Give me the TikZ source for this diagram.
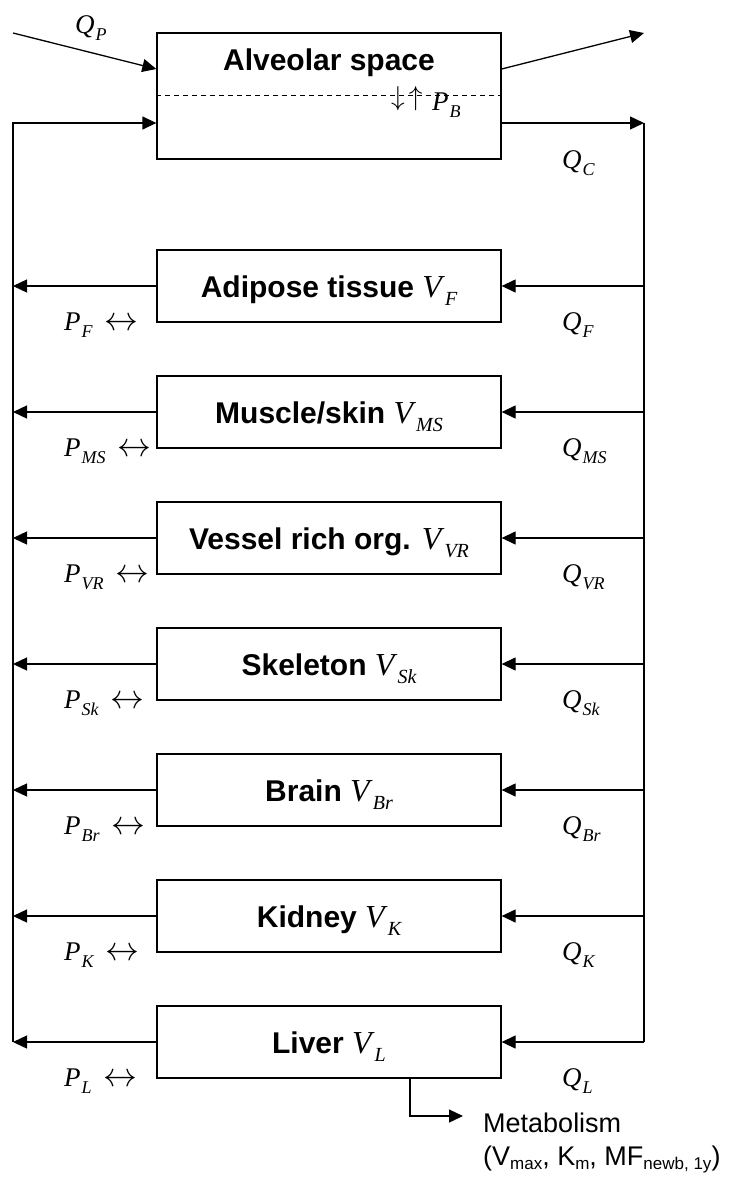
\documentclass[tikz,border=0pt]{standalone}
\usepackage{graphicx}
\usepackage{fontspec}
\setmainfont{Liberation Sans}
\newfontfamily\tms{Liberation Serif}
\usetikzlibrary{arrows.meta,calc}
\newcommand\vsub[2]{{\tms\mdseries\itshape\fontsize{32}{32}\selectfont #1\kern3pt\raisebox{-8pt}{\fontsize{20}{20}\selectfont #2}}}
\newcommand\psub[2]{{\tms\mdseries\itshape\fontsize{27}{27}\selectfont #1\kern1pt\raisebox{-7pt}{\fontsize{18}{18}\selectfont #2}}}
\newcommand\msub[1]{\raisebox{-4pt}{\fontsize{17}{17}\selectfont #1}}
\newcommand\lra{{\fontsize{25}{25}\selectfont\scalebox{1.36}{$\leftrightarrow$}}}
\begin{document}
\begin{tikzpicture}[x=1pt,y=-1pt,
  box/.style={draw, line width=1.3pt, minimum width=344pt, minimum height=72pt, inner sep=0pt, text height=22pt, text depth=0pt, font=\fontsize{30}{36}\selectfont\bfseries},
  arr/.style={line width=1.3pt, -{Triangle[length=14pt,width=13pt]}},
  ln/.style={line width=1.3pt},
  lab/.style={inner sep=0pt, anchor=base west}]
\useasboundingbox (0,0) rectangle (731,1178);
\coordinate (lt) at (13,123);
\coordinate (lb) at (13,1042);
\coordinate (rt) at (644,123);
\coordinate (rb) at (644,1042);
\coordinate (dl) at (0,95);
\coordinate (qin) at (13,33);
\coordinate (qout) at (644,33);
% alveolar space
\node[draw, line width=1.3pt, minimum width=344pt, minimum height=126pt, inner sep=0pt] (alv) at (329,96) {};
\node[anchor=base, inner sep=0pt, font=\fontsize{30}{36}\selectfont\bfseries] (alvt) at (329,70) {Alveolar space};
\draw[line width=1pt, dash pattern=on 5pt off 4pt] (alv.west |- dl) -- (alv.east |- dl);
\node[lab] (ud) at (391,105) {\fontsize{25}{25}\selectfont\scalebox{1.1}{$\downarrow$}\kern4pt\scalebox{1.1}{$\uparrow$}};
\node[lab] (pb) at (432,110) {\psub{P}{B}};
\draw[arr] (qin) -- ($(alv.west)+(0,-27)$);
\draw[arr] ($(alv.east)+(0,-27)$) -- (qout);
\draw[arr] (lb) -- (lt) -- (alv.west |- lt);
\draw[arr] (alv.east |- lt) -- (rt);
\draw[ln] (rt) -- (rb);
\node[lab] (qp) at (75,33) {\psub{Q}{P}};
\node[lab] (qc) at (562,168) {\psub{Q}{C}};
\newcommand\organ[4]{%
 \node[box] (#1) at (329,#2) {#3 \vsub{V}{#4}};
 \draw[arr] (#1.west) -- (#1.west -| lt);
 \draw[arr] (#1.east -| rt) -- (#1.east);
 \node[lab] (p#1) at (64,#2+44) {\psub{P}{#4}\hspace{12pt}\lra};
 \node[lab] (q#1) at (562,#2+44) {\psub{Q}{#4}};
}
\organ{ad}{286}{Adipose tissue}{F}
\organ{ms}{412}{Muscle/skin}{MS}
\organ{vr}{538}{Vessel rich org.}{VR}
\organ{sk}{664}{Skeleton}{Sk}
\organ{br}{790}{Brain}{Br}
\organ{ki}{916}{Kidney}{K}
\organ{li}{1042}{Liver}{L}
% metabolism
\coordinate (mc) at (410,1116);
\coordinate (mend) at (463,1116);
\node[lab, font=\fontsize{27}{27}\selectfont] (met) at (483,1132) {Metabolism};
\node[lab, font=\fontsize{27}{27}\selectfont] (met2) at (483,1165) {(V\msub{max}, K\msub{m}, MF\msub{newb, 1y})};
\draw[arr] (li.south -| mc) -- (mc) -- (mend);
\end{tikzpicture}
\end{document}
